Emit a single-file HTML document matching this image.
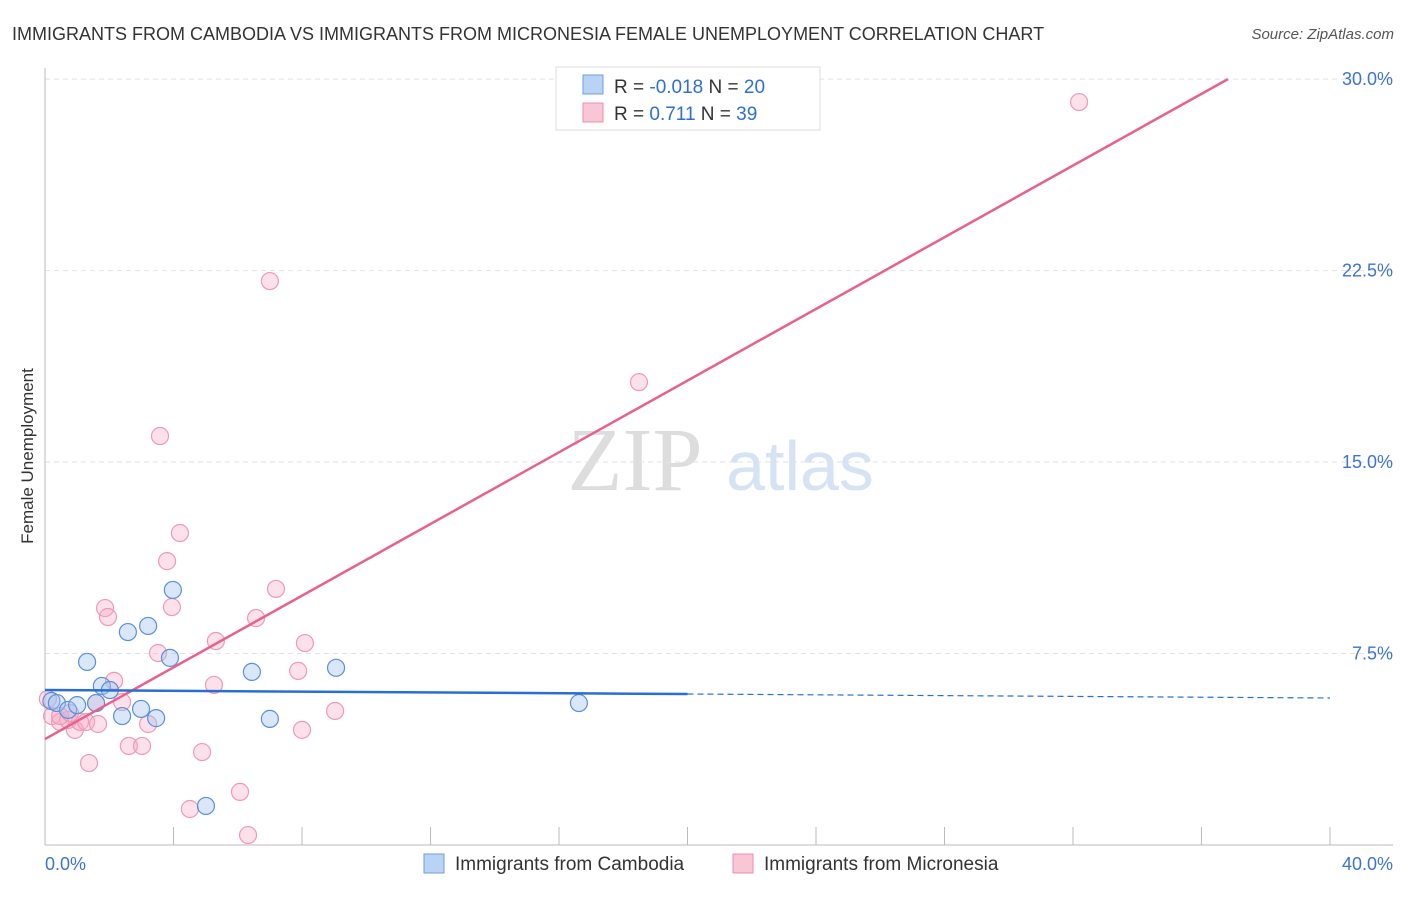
<!DOCTYPE html>
<html><head><meta charset="utf-8"><style>
body{margin:0;background:#fff;font-family:"Liberation Sans",sans-serif}
</style></head><body>
<svg width="1406" height="892" xmlns="http://www.w3.org/2000/svg">
<text x="12" y="40" font-size="18" fill="#333">IMMIGRANTS FROM CAMBODIA VS IMMIGRANTS FROM MICRONESIA FEMALE UNEMPLOYMENT CORRELATION CHART</text>
<text x="1394" y="39" font-size="15" fill="#555" font-style="italic" text-anchor="end">Source: ZipAtlas.com</text>
<text x="0" y="0" transform="translate(33,456) rotate(-90)" font-size="17" fill="#333" text-anchor="middle">Female Unemployment</text>
<text x="635" y="490" font-size="90" fill="#ddd" font-family="Liberation Serif" text-anchor="middle">ZIP</text>
<text x="800" y="490" font-size="70" fill="#d5e3f5" text-anchor="middle">atlas</text>
<g id="grid"></g><g id="axes"></g><g id="marks"></g>
<g>
<rect x="556" y="67" width="264" height="63" fill="#fff" stroke="#ddd"/>
<rect x="583" y="75" width="20" height="19" fill="#b9d3f5" stroke="#6f9de0"/>
<rect x="583" y="103" width="20" height="19" fill="#f9c6d6" stroke="#ec8fac"/>
<text x="614" y="93" font-size="19" fill="#333">R = <tspan fill="#2d6fd0">-0.018</tspan>   N = <tspan fill="#2d6fd0">20</tspan></text>
<text x="614" y="120" font-size="19" fill="#333">R =   <tspan fill="#2d6fd0">0.711</tspan>   N = <tspan fill="#2d6fd0">39</tspan></text>
</g>
<g>
<rect x="424" y="854" width="20" height="19" fill="#b9d3f5" stroke="#6f9de0"/>
<text x="455" y="870" font-size="19" fill="#333">Immigrants from Cambodia</text>
<rect x="733" y="854" width="20" height="19" fill="#f9c6d6" stroke="#ec8fac"/>
<text x="764" y="870" font-size="19" fill="#333">Immigrants from Micronesia</text>
</g>
</svg>
<script>
const yTicks=[7.5,15,22.5,30];
const yTickLabels=["7.5%","15.0%","22.5%","30.0%"];
const xTickLabels=["0.0%","40.0%"];
const cambodiaX=[0.2,0.37,0.72,1.0,1.31,1.59,1.77,2.02,2.4,2.58,2.99,3.21,3.46,3.89,3.98,5.01,6.44,7.0,9.06,16.62];
const cambodiaY=[5.64,5.56,5.29,5.48,7.17,5.56,6.23,6.07,5.05,8.34,5.33,8.58,4.97,7.33,9.99,1.53,6.78,4.94,6.94,5.56];
const microX=[0.22,0.47,0.72,0.93,1.09,1.28,1.37,1.59,1.65,1.87,1.96,2.15,2.4,2.61,3.02,3.21,3.52,3.58,3.8,3.95,4.2,4.51,4.89,5.26,5.32,6.07,6.32,6.57,7.0,7.19,7.88,8.0,8.09,9.03,18.49,32.19,0.47,0.78,0.09];
const microY=[5.05,4.82,4.9,4.51,4.82,4.82,3.21,5.56,4.74,9.28,8.93,6.43,5.6,3.88,3.88,4.74,7.52,16.02,11.12,9.32,12.22,1.41,3.64,6.27,7.99,2.08,0.39,8.89,22.09,10.03,6.82,4.51,7.91,5.25,18.13,29.1,5.05,5.17,5.72];
const microIntercept=4.15, microSlope=0.702, cambIntercept=6.07, cambSlope=-0.0078;
const NS="http://www.w3.org/2000/svg";
const X=v=>45+v*32.125, Y=v=>845-v*25.53;
function mk(p,t,a){const e=document.createElementNS(NS,t);for(const k in a)e.setAttribute(k,a[k]);document.getElementById(p).appendChild(e);return e;}
yTicks.forEach((t,i)=>{
 const g=mk('grid','line',{x1:45,x2:1393,y1:Y(t),y2:Y(t),stroke:'#e2e2e2','stroke-dasharray':'5,4'});
 
 
 const l=mk('axes','text',{x:1393,y:Y(t)+6,'font-size':18,fill:'#3d74cf','text-anchor':'end'});
 l.textContent=yTickLabels[i];
 
 
});
mk('axes','line',{x1:45,x2:45,y1:68,y2:845,stroke:'#bbb'});
mk('axes','line',{x1:45,x2:1393,y1:845,y2:845,stroke:'#bbb'});
for(let i=1;i<=10;i++){const t=mk('axes','line',{x1:X(i*4),x2:X(i*4),y1:827,y2:845,stroke:'#bbb'});
 
 }
const xl0=mk('axes','text',{x:45,y:870,'font-size':18,fill:'#3d74cf'});xl0.textContent=xTickLabels[0];


const xl1=mk('axes','text',{x:1393,y:870,'font-size':18,fill:'#3d74cf','text-anchor':'end'});xl1.textContent=xTickLabels[1];


microX.forEach((x,i)=>{const c=mk('marks','circle',{cx:X(x),cy:Y(microY[i]),r:8.5,fill:'rgba(246,170,195,0.35)',stroke:'#ee9ab5','stroke-width':1.2});
 
 });
cambodiaX.forEach((x,i)=>{const c=mk('marks','circle',{cx:X(x),cy:Y(cambodiaY[i]),r:8.5,fill:'rgba(160,195,240,0.4)',stroke:'#5b8fdc','stroke-width':1.2});
 
 });
const xe=(30-microIntercept)/microSlope;
const pl=mk('marks','line',{x1:X(0),y1:Y(microIntercept),x2:X(xe),y2:Y(30),stroke:'#e8608c','stroke-width':2.5});


const bl=mk('marks','line',{x1:X(0),y1:Y(cambIntercept),x2:X(20),y2:Y(cambIntercept+20*cambSlope),stroke:'#2a6ed3','stroke-width':2.5});


const bd=mk('marks','line',{x1:X(20),y1:Y(cambIntercept+20*cambSlope),x2:X(40),y2:Y(cambIntercept+40*cambSlope),stroke:'#2a6ed3','stroke-width':1.2,'stroke-dasharray':'6,4'});


</script>
</body></html>
